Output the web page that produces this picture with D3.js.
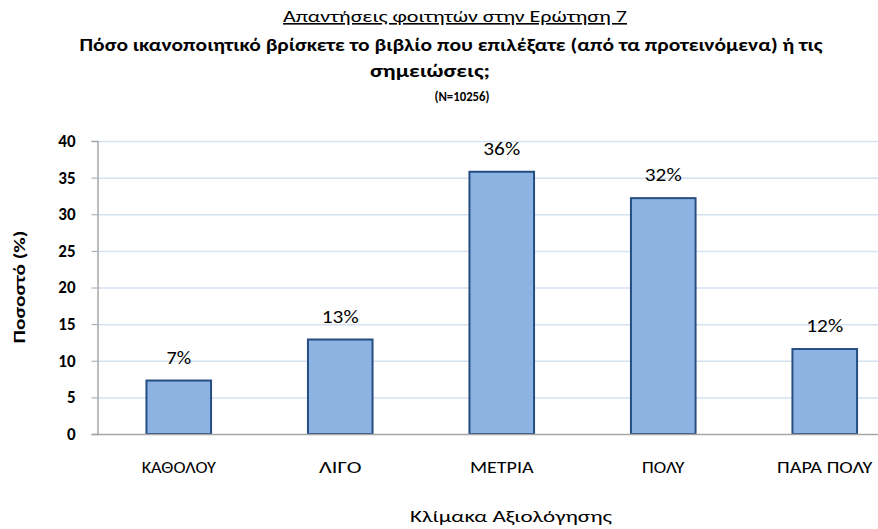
<!DOCTYPE html>
<html>
<head>
<meta charset="utf-8">
<script src="https://cdn.jsdelivr.net/npm/d3@7"></script>
<style>
  body { margin: 0; background: #fff; }
  svg { display: block; }
</style>
</head>
<body>
<svg id="vis" width="878" height="529"></svg>
<script>
// data
var categories = ["ΚΑΘΟΛΟΥ", "ΛΙΓΟ", "ΜΕΤΡΙΑ", "ΠΟΛΥ", "ΠΑΡΑ ΠΟΛΥ"];
var values = [7.3, 12.9, 35.8, 32.2, 11.6];
var valueLabels = ["7%", "13%", "36%", "32%", "12%"];
var yTicks = [0, 5, 10, 15, 20, 25, 30, 35, 40];
var titleLines = [
    "Απαντήσεις φοιτητών στην Ερώτηση 7",
    "Πόσο ικανοποιητικό βρίσκετε το βιβλίο που επιλέξατε (από τα προτεινόμενα)  ή τις",
    "σημειώσεις;",
    "(N=10256)"
];

var font = "Calibri, Carlito, Lato, 'Open Sans', sans-serif";
var plotLeft = 98, plotTop = 141, plotBottom = 434;
var step = 161.5;

var svg = d3.select("#vis");

var x = d3.scaleBand()
    .domain(categories)
    .range([plotLeft, plotLeft + step * categories.length])
    .paddingInner(0.6)
    .paddingOuter(0.3);

var y = d3.scaleLinear().domain([0, 40]).range([plotBottom, plotTop]);

// gridlines
svg.append("g")
    .selectAll("line")
    .data(yTicks.slice(1))
    .enter()
    .append("line")
    .attr("x1", plotLeft)
    .attr("x2", 878)
    .attr("y1", function (d) { return y(d) + 0.5; })
    .attr("y2", function (d) { return y(d) + 0.5; })
    .attr("stroke", "#d5e1f1")
    .attr("stroke-width", 1.5);

// y axis
var yAxis = svg.append("g")
    .attr("transform", "translate(" + (plotLeft - 0.5) + ",0)")
    .call(d3.axisLeft(y).tickValues(yTicks).tickSize(6).tickPadding(16));
yAxis.select(".domain").attr("stroke", "#a6a6a6").attr("stroke-width", 1.5);
yAxis.selectAll(".tick line").attr("stroke", "#a6a6a6");
yAxis.selectAll("text")
    .style("font-family", font)
    .style("font-size", "17px")
    .style("font-weight", "bold")
    .attr("fill", "#000");

// bars
svg.append("g")
    .selectAll("rect")
    .data(values)
    .enter()
    .append("rect")
    .attr("x", function (d, i) { return x(categories[i]); })
    .attr("y", function (d) { return y(d); })
    .attr("width", x.bandwidth())
    .attr("height", function (d) { return y(0) - y(d); })
    .attr("fill", "#8db3e2")
    .attr("stroke", "#254e82")
    .attr("stroke-width", 2);

// x axis line
svg.append("line")
    .attr("x1", plotLeft - 6)
    .attr("x2", 878)
    .attr("y1", plotBottom + 0.5)
    .attr("y2", plotBottom + 0.5)
    .attr("stroke", "#a6a6a6")
    .attr("stroke-width", 1.5);

// value labels
svg.append("g")
    .selectAll("text")
    .data(values)
    .enter()
    .append("text")
    .attr("x", function (d, i) { return x(categories[i]) + x.bandwidth() / 2; })
    .attr("y", function (d) { return y(d) - 17; })
    .attr("text-anchor", "middle")
    .style("font-family", font)
    .style("font-size", "18px")
    .attr("textLength", function (d, i) { return valueLabels[i].length * 12.3; })
    .attr("lengthAdjust", "spacingAndGlyphs")
    .text(function (d, i) { return valueLabels[i]; });

// category labels
svg.append("g")
    .selectAll("text")
    .data(categories)
    .enter()
    .append("text")
    .attr("x", function (d) { return x(d) + x.bandwidth() / 2; })
    .attr("y", 473)
    .attr("text-anchor", "middle")
    .style("font-family", font)
    .style("font-size", "16px")
    .attr("textLength", function (d) { return d.length * 10.6; })
    .attr("lengthAdjust", "spacingAndGlyphs")
    .text(function (d) { return d; });

// axis titles
svg.append("text")
    .attr("x", 511)
    .attr("y", 522)
    .attr("text-anchor", "middle")
    .style("font-family", font)
    .style("font-size", "17px")
    .attr("textLength", 202)
    .attr("lengthAdjust", "spacingAndGlyphs")
    .text("Κλίμακα Αξιολόγησης");

svg.append("text")
    .attr("transform", "translate(25,287) rotate(-90)")
    .attr("text-anchor", "middle")
    .style("font-family", font)
    .style("font-size", "16px")
    .style("font-weight", "bold")
    .attr("textLength", 113)
    .attr("lengthAdjust", "spacingAndGlyphs")
    .text("Ποσοστό (%)");

// titles
var titleX = [455, 451, 430, 462];
var titleY = [22, 51, 77, 101];
var titleSize = [16, 17, 17, 13];
var titleWidth = [344, 743, 120, 55];
svg.append("g")
    .selectAll("text")
    .data(titleLines)
    .enter()
    .append("text")
    .attr("x", function (d, i) { return titleX[i]; })
    .attr("y", function (d, i) { return titleY[i]; })
    .attr("text-anchor", "middle")
    .style("font-family", font)
    .style("font-size", function (d, i) { return titleSize[i] + "px"; })
    .style("font-weight", function (d, i) { return i === 0 ? "normal" : "bold"; })
    .style("text-decoration", function (d, i) { return i === 0 ? "underline" : "none"; })
    .attr("textLength", function (d, i) { return titleWidth[i]; })
    .attr("lengthAdjust", "spacingAndGlyphs")
    .text(function (d) { return d; });
</script>
</body>
</html>
